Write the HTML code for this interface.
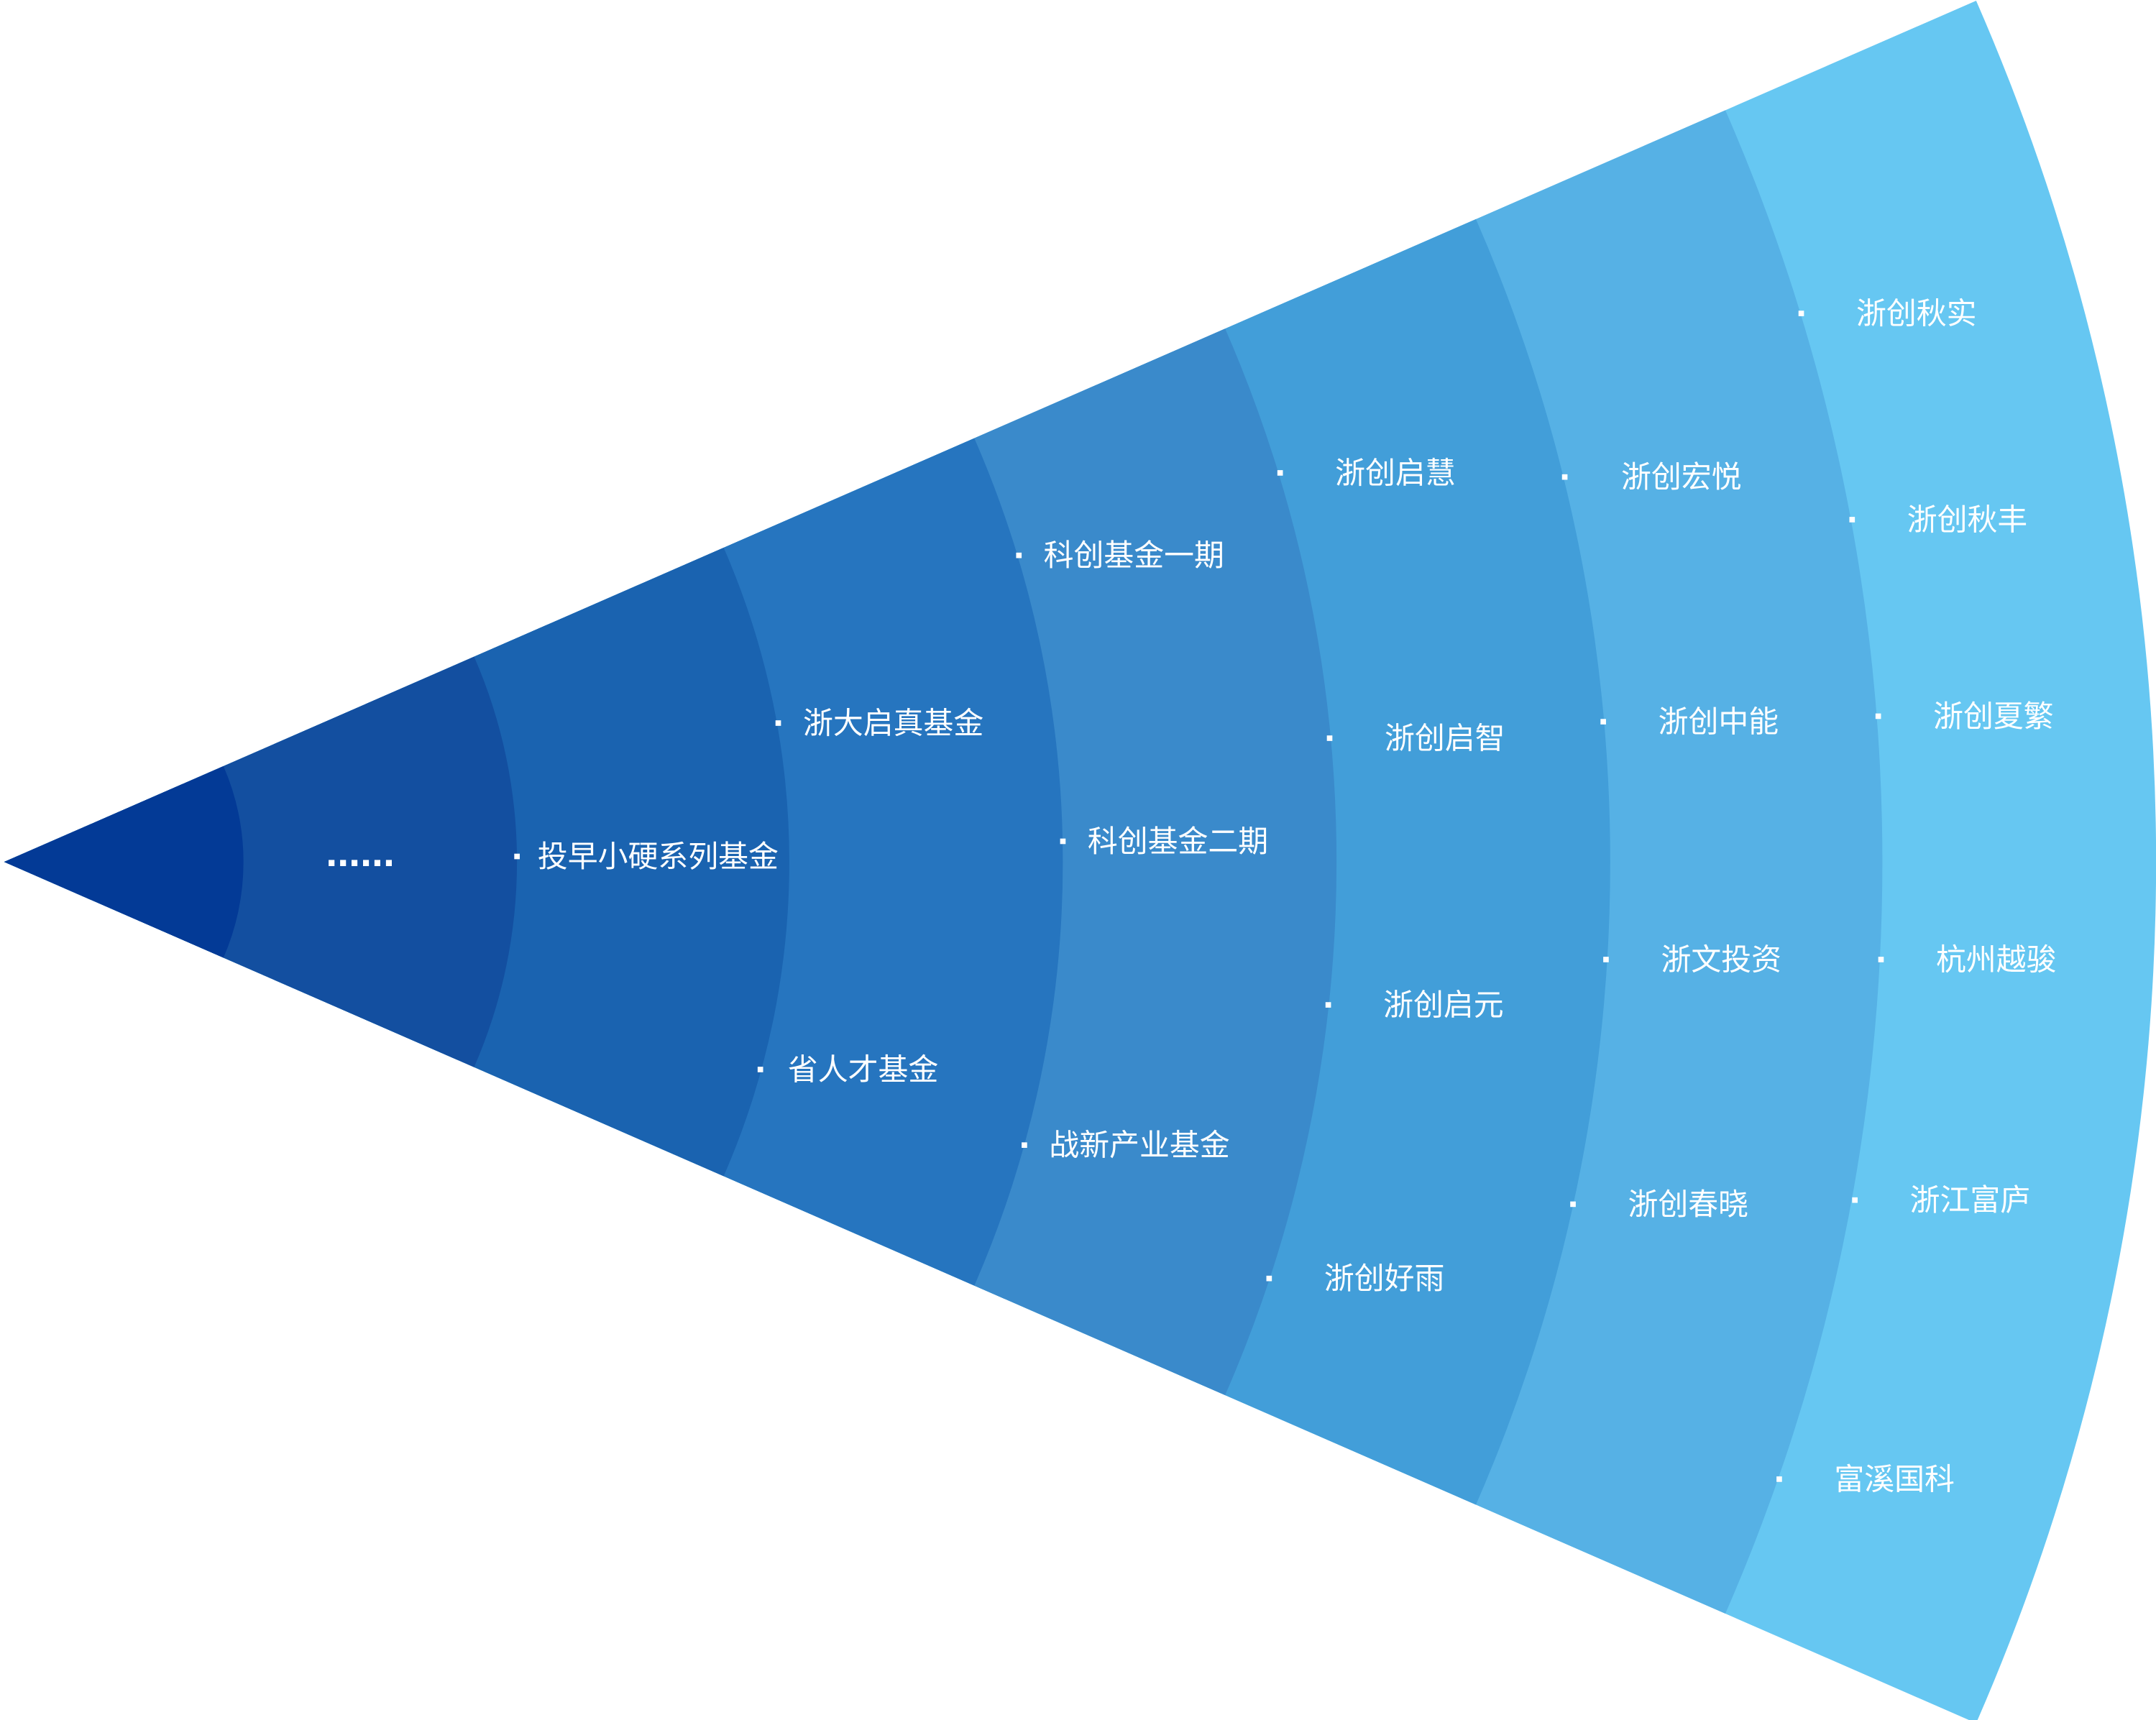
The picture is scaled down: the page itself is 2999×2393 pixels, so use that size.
<!DOCTYPE html>
<html><head><meta charset="utf-8"><style>
html,body{margin:0;padding:0;background:#fff;}
svg{display:block;}
text{font-family:"Liberation Sans","Noto Sans CJK SC",sans-serif;fill:#fff;font-size:21.9px;dominant-baseline:central;}
</style></head><body>
<svg width="2999" height="2393" viewBox="0 0 1568 1251.2" preserveAspectRatio="none" xmlns="http://www.w3.org/2000/svg">
<path d="M3 627 L1437.2 0.5 A1565 1565 0 0 1 1437.2 1253.5 Z" fill="#66c7f2"/>
<path d="M3 627 L1254.8 80.2 A1366 1366 0 0 1 1254.8 1173.8 Z" fill="#56b1e5"/>
<path d="M3 627 L1073.4 159.4 A1168 1168 0 0 1 1073.4 1094.6 Z" fill="#429ed9"/>
<path d="M3 627 L891 239.1 A969 969 0 0 1 891 1014.9 Z" fill="#3a8acb"/>
<path d="M3 627 L708.6 318.8 A770 770 0 0 1 708.6 935.2 Z" fill="#2675bf"/>
<path d="M3 627 L526.3 398.4 A571 571 0 0 1 526.3 855.6 Z" fill="#1a63b0"/>
<path d="M3 627 L344.8 477.7 A373 373 0 0 1 344.8 776.3 Z" fill="#134fa0"/>
<path d="M3 627 L162.5 557.3 A174 174 0 0 1 162.5 696.7 Z" fill="#033a96"/>
<g fill="#fff">
<rect x="374" y="621" width="4" height="4"/>
<rect x="564" y="524" width="4" height="4"/>
<rect x="551" y="776" width="4" height="4"/>
<rect x="739" y="402" width="4" height="4"/>
<rect x="771" y="610" width="4" height="4"/>
<rect x="743" y="831" width="4" height="4"/>
<rect x="929" y="342" width="4" height="4"/>
<rect x="965" y="535" width="4" height="4"/>
<rect x="964" y="729" width="4" height="4"/>
<rect x="921" y="928" width="4" height="4"/>
<rect x="1136" y="345" width="4" height="4"/>
<rect x="1164" y="523" width="4" height="4"/>
<rect x="1166" y="696" width="4" height="4"/>
<rect x="1142" y="874" width="4" height="4"/>
<rect x="1308" y="226" width="4" height="4"/>
<rect x="1345" y="376" width="4" height="4"/>
<rect x="1364" y="519" width="4" height="4"/>
<rect x="1366" y="696" width="4" height="4"/>
<rect x="1347" y="871" width="4" height="4"/>
<rect x="1292" y="1074" width="4" height="4"/>
</g>
<text x="237" y="620" style="font-weight:bold;font-size:30px">......</text>
<text x="391" y="623">投早小硬系列基金</text>
<text x="584" y="526">浙大启真基金</text>
<text x="573" y="778">省人才基金</text>
<text x="759" y="404">科创基金一期</text>
<text x="791" y="612">科创基金二期</text>
<text x="763" y="833">战新产业基金</text>
<text x="971" y="344">浙创启慧</text>
<text x="1007" y="537">浙创启智</text>
<text x="1006" y="731">浙创启元</text>
<text x="963" y="930">浙创好雨</text>
<text x="1179" y="347">浙创宏悦</text>
<text x="1206" y="525">浙创中能</text>
<text x="1208" y="698">浙文投资</text>
<text x="1184" y="876">浙创春晓</text>
<text x="1350" y="228">浙创秋实</text>
<text x="1387" y="378">浙创秋丰</text>
<text x="1406" y="521">浙创夏繁</text>
<text x="1408" y="698">杭州越骏</text>
<text x="1389" y="873">浙江富庐</text>
<text x="1334" y="1076">富溪国科</text>
</svg>
</body></html>
